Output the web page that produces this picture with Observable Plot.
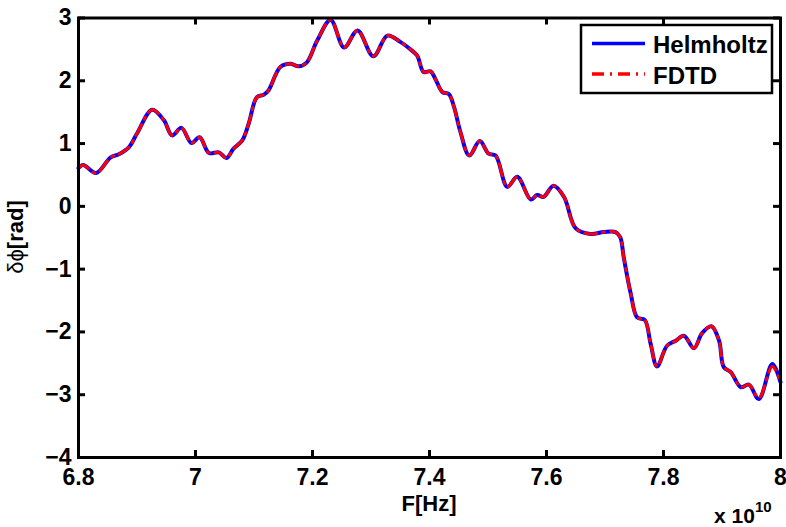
<!DOCTYPE html>
<html><head><meta charset="utf-8">
<script src="https://cdn.jsdelivr.net/npm/d3@7"></script>
<script src="https://cdn.jsdelivr.net/npm/@observablehq/plot@0.6"></script>
<style>body{margin:0;background:#fff} #chart{width:786px;height:527px}</style>
</head><body><div id="chart"></div>
<script>
// Frequency in units of 1e10 Hz
const freq = [6.800, 6.808, 6.830, 6.855, 6.869, 6.886, 6.900, 6.926, 6.946, 6.960,
  6.976, 6.993, 7.007, 7.023, 7.040, 7.053, 7.065, 7.080, 7.091, 7.105,
  7.117, 7.125, 7.145, 7.162, 7.176, 7.190, 7.208, 7.231, 7.254,
  7.277, 7.304, 7.328, 7.350, 7.370, 7.379, 7.390, 7.402, 7.410, 7.422,
  7.433, 7.442, 7.453, 7.468, 7.486, 7.501, 7.513, 7.533, 7.550, 7.573,
  7.584, 7.595, 7.612, 7.630, 7.650, 7.675, 7.698, 7.718, 7.726, 7.732,
  7.744, 7.755, 7.768, 7.778, 7.789, 7.806, 7.821, 7.835, 7.852, 7.866,
  7.882, 7.895, 7.903, 7.915, 7.932, 7.946, 7.963, 7.986, 8.000];
const helmholtz = [0.61, 0.66, 0.53, 0.78, 0.83, 0.94, 1.16, 1.54, 1.37, 1.13,
  1.25, 1.01, 1.10, 0.85, 0.86, 0.77, 0.92, 1.05, 1.32, 1.74,
  1.78, 1.85, 2.22, 2.27, 2.23, 2.29, 2.64, 2.97, 2.53,
  2.80, 2.39, 2.72, 2.62, 2.48, 2.40, 2.14, 2.15, 2.03, 1.82,
  1.79, 1.58, 1.18, 0.81, 1.04, 0.84, 0.81, 0.31, 0.47, 0.11,
  0.18, 0.15, 0.33, 0.15, -0.35, -0.44, -0.41, -0.41, -0.49, -0.81,
  -1.39, -1.77, -1.81, -2.19, -2.55, -2.22, -2.14, -2.06, -2.26, -2.02,
  -1.91, -2.14, -2.56, -2.64, -2.88, -2.84, -3.07, -2.51, -2.80];
const fdtd = [0.61, 0.66, 0.53, 0.78, 0.83, 0.94, 1.16, 1.54, 1.37, 1.13,
  1.25, 1.01, 1.10, 0.85, 0.86, 0.77, 0.92, 1.05, 1.32, 1.74,
  1.78, 1.85, 2.22, 2.27, 2.23, 2.29, 2.64, 2.97, 2.53,
  2.80, 2.39, 2.72, 2.62, 2.48, 2.40, 2.14, 2.15, 2.03, 1.82,
  1.79, 1.58, 1.18, 0.81, 1.04, 0.84, 0.81, 0.31, 0.47, 0.11,
  0.18, 0.15, 0.33, 0.15, -0.35, -0.44, -0.41, -0.41, -0.49, -0.81,
  -1.39, -1.77, -1.81, -2.19, -2.55, -2.22, -2.14, -2.06, -2.26, -2.02,
  -1.91, -2.14, -2.56, -2.64, -2.88, -2.84, -3.05, -2.55, -2.80];
const xTicks = [6.8, 7, 7.2, 7.4, 7.6, 7.8, 8];
const yTicks = [-4, -3, -2, -1, 0, 1, 2, 3];
const seriesNames = ["Helmholtz", "FDTD"];
const seriesColors = ["#0000ff", "#ff0000"];
const xLabel = "F[Hz]";
const yLabelSym = "δϕ";
const yLabelUnit = "[rad]";
const xExponentBase = "x 10";
const xExponent = "10";

const rowsH = freq.map((f, i) => ({f, v: helmholtz[i]}));
const rowsF = freq.map((f, i) => ({f, v: fdtd[i]}));

const font = "'Liberation Sans', Arial, Helvetica, sans-serif";
const dashDot = "12,6,2,6";
const W = 786, H = 527, mL = 78, mR = 6, mT = 17.5, mB = 70;
const tickLen = 7;
const frameW = W - mL - mR, frameH = H - mT - mB;

const plot = Plot.plot({
  width: W, height: H,
  marginLeft: mL, marginRight: mR, marginTop: mT, marginBottom: mB,
  x: {domain: [6.8, 8]},
  y: {domain: [-4, 3]},
  style: {fontFamily: font, fontSize: "23px", fontWeight: "bold", background: "#fff", color: "#000", overflow: "visible"},
  marks: [
    Plot.line(rowsH, {x: "f", y: "v", stroke: seriesColors[0], strokeWidth: 4, curve: "catmull-rom"}),
    Plot.line(rowsF, {x: "f", y: "v", stroke: seriesColors[1], strokeWidth: 3, strokeDasharray: dashDot, curve: "catmull-rom"}),
    // inward ticks on all four sides
    Plot.ruleX(xTicks, {x: d => d, insetTop: frameH - tickLen, stroke: "#000", strokeWidth: 3}),
    Plot.ruleX(xTicks, {x: d => d, insetBottom: frameH - tickLen, stroke: "#000", strokeWidth: 3}),
    Plot.ruleY(yTicks, {y: d => d, insetLeft: frameW - tickLen, stroke: "#000", strokeWidth: 3}),
    Plot.ruleY(yTicks, {y: d => d, insetRight: frameW - tickLen, stroke: "#000", strokeWidth: 3}),
    Plot.frame({stroke: "#000", strokeWidth: 3}),
    Plot.axisX(xTicks, {anchor: "bottom", tickSize: 0, tickPadding: 11, tickFormat: d => String(+d.toFixed(1)), label: null}),
    Plot.axisY(yTicks, {anchor: "left", tickSize: 0, tickPadding: 7, tickFormat: d => (d < 0 ? "\u2212" + Math.abs(d) : String(d)), label: null})
  ]
});
document.getElementById("chart").appendChild(plot);

const svg = d3.select(plot);
// x label
svg.append("text").attr("x", 429).attr("y", 511).attr("text-anchor", "middle")
  .attr("font-family", font).attr("font-size", 22).attr("font-weight", "bold").text(xLabel);
// exponent
const ex = svg.append("text").attr("x", 714).attr("y", 523).attr("text-anchor", "start")
  .attr("font-family", font).attr("font-size", 21).attr("font-weight", "bold");
ex.append("tspan").text(xExponentBase);
ex.append("tspan").attr("dy", -11).attr("font-size", 15).text(xExponent);
// y label
const yl = svg.append("text").attr("transform", "translate(23,237) rotate(-90)").attr("text-anchor", "middle")
  .attr("font-family", font).attr("font-size", 22);
yl.append("tspan").attr("font-weight", "normal").text(yLabelSym);
yl.append("tspan").attr("font-weight", "bold").text(yLabelUnit);
// legend
const lg = svg.append("g");
lg.append("rect").attr("x", 581).attr("y", 25).attr("width", 191).attr("height", 68)
  .attr("fill", "#fff").attr("stroke", "#000").attr("stroke-width", 2.5);
const legY = [43.5, 74];
seriesNames.forEach((name, i) => {
  lg.append("line").attr("x1", 592).attr("x2", 645).attr("y1", legY[i]).attr("y2", legY[i])
    .attr("stroke", seriesColors[i]).attr("stroke-width", 3.5)
    .attr("stroke-dasharray", i === 1 ? dashDot : null);
  lg.append("text").attr("x", 653).attr("y", legY[i] + 9.5).attr("text-anchor", "start")
    .attr("font-family", font).attr("font-size", 24).attr("font-weight", "bold").text(name);
});
</script>
</body></html>
